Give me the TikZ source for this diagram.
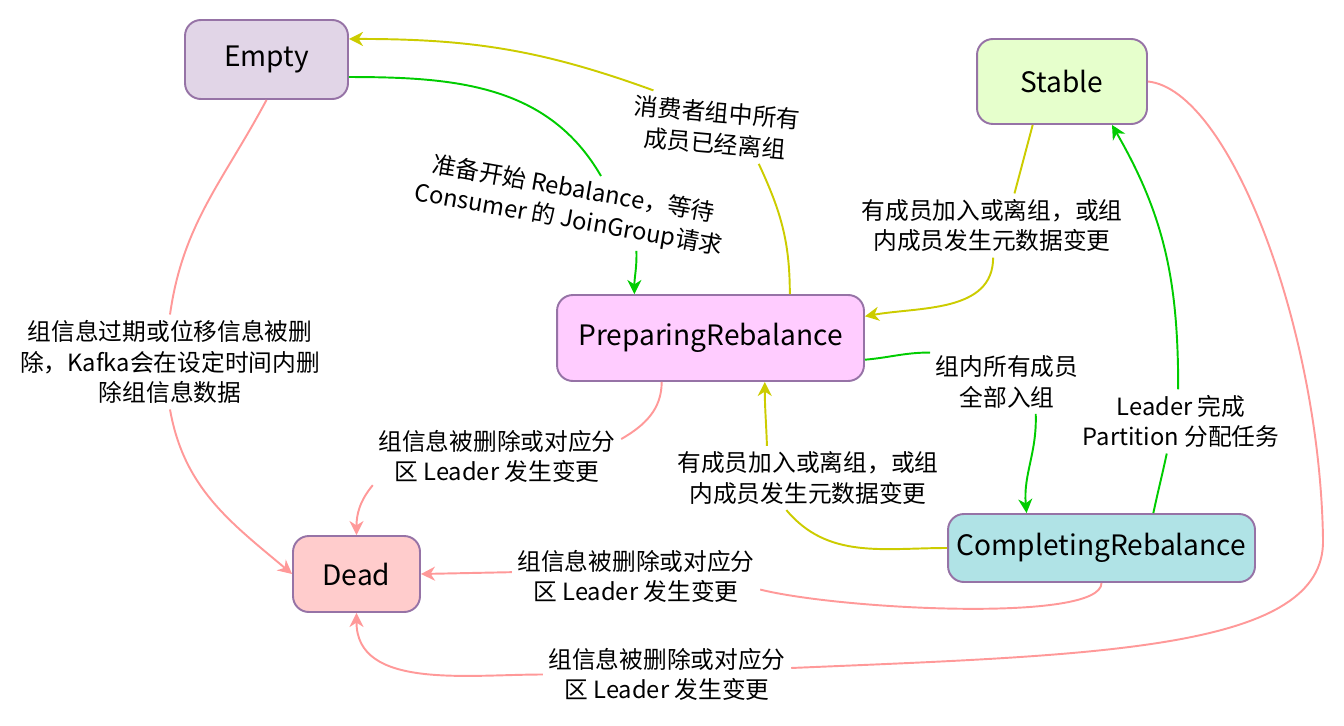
\documentclass[tikz,border=0pt]{standalone}
\usepackage{fontspec}
\setmainfont{Noto Sans CJK SC}
\usetikzlibrary{arrows.meta}
\definecolor{stateLine}{HTML}{9673A6}
\definecolor{emptyFill}{HTML}{E1D5E7}
\definecolor{stableFill}{HTML}{E6FFCC}
\definecolor{prepFill}{HTML}{FFCCFF}
\definecolor{deadFill}{HTML}{FFCCCC}
\definecolor{compFill}{HTML}{B0E3E6}
\definecolor{lineY}{HTML}{CCCC00}
\definecolor{lineG}{HTML}{00CC00}
\definecolor{lineP}{HTML}{FF9999}
\begin{document}
\begin{tikzpicture}[x=0.02cm,y=0.02cm,>={Stealth[length=8pt,width=8pt,inset=2.5pt]},
  stbox/.style={draw=stateLine,line width=1.1pt,rounded corners=9pt,font=\fontsize{16}{19}\selectfont},
  lbl/.style={align=center,inner sep=3pt,font=\fontsize{13.5}{17.5}\selectfont},
  ylw/.style={draw=lineY,line width=1.1pt},
  grn/.style={draw=lineG,line width=1.1pt},
  pnk/.style={draw=lineP,line width=1.1pt}]
\useasboundingbox (0,0) rectangle (1344,-726);
\node[stbox,fill=emptyFill,minimum width=3.26cm,minimum height=1.58cm] (Empty) at (266.5,-59.5) {Empty};
\node[stbox,fill=stableFill,minimum width=3.4cm,minimum height=1.7cm] (Stable) at (1062,-81.5) {Stable};
\node[stbox,fill=prepFill,minimum width=6.14cm,minimum height=1.72cm] (Prep) at (710.5,-338) {PreparingRebalance};
\node[stbox,fill=deadFill,minimum width=2.54cm,minimum height=1.52cm] (Dead) at (356.5,-574) {Dead};
\node[stbox,fill=compFill,minimum width=6.14cm,minimum height=1.36cm] (Comp) at (1101.5,-548) {CompletingRebalance};

\node[lbl,rotate=-5] (lblLeft) at (716,-128) {消费者组中所有\\成员已经离组};
\node[lbl,rotate=-10] (lblJoin) at (571,-205) {准备开始 Rebalance，等待\\Consumer 的 JoinGroup请求};
\node[lbl] (lblExpire) at (170,-362) {组信息过期或位移信息被删\\除，Kafka会在设定时间内删\\除组信息数据};
\node[lbl] (lblPrepDead) at (497,-456.5) {组信息被删除或对应分\\区 Leader 发生变更};
\node[lbl] (lblStablePrep) at (992,-225.5) {有成员加入或离组，或组\\内成员发生元数据变更};
\node[lbl] (lblAllIn) at (1007,-382) {组内所有成员\\全部入组};
\node[lbl] (lblLeader) at (1181,-421.5) {Leader 完成\\Partition 分配任务};
\node[lbl] (lblCompPrep) at (808,-478) {有成员加入或离组，或组\\内成员发生元数据变更};
\node[lbl] (lblCompDead) at (636,-576.5) {组信息被删除或对应分\\区 Leader 发生变更};
\node[lbl] (lblStableDead) at (667,-674.5) {组信息被删除或对应分\\区 Leader 发生变更};

\draw[ylw] (Prep.29) to[out=90,in=-65] (lblLeft.-35);
\draw[ylw,->] (lblLeft.154) to[out=160,in=0] (Empty.14);
\draw[grn] (Empty.-12) to[out=0,in=120] (lblJoin.54);
\draw[grn,->] (lblJoin.-25) to[out=-88,in=90] (Prep.150);
\draw[pnk] (Empty.south) to[out=-118,in=82] (lblExpire.north);
\draw[pnk,->] (lblExpire.south) to[out=-80,in=140] (Dead.west);
\draw[pnk] (Prep.-138) to[out=-90,in=30] (lblPrepDead.8);
\draw[pnk,->] (lblPrepDead.193) to[out=-130,in=90] (Dead.north);
\draw[ylw] (Stable.-124) to[out=-105,in=75] (lblStablePrep.55);
\draw[ylw,->] (lblStablePrep.-88) to[out=-90,in=10] (Prep.8);
\draw[grn] (Prep.-8) to[out=5,in=180] (lblAllIn.159);
\draw[grn,->] (lblAllIn.-48) to[out=-88,in=95] (Comp.155);
\draw[grn] (Comp.34) to[out=78,in=-102] (lblLeader.-114);
\draw[grn,->] (lblLeader.95) to[out=90,in=-60] (Stable.-41);
\draw[ylw] (Comp.west) to[out=180,in=-50] (lblCompPrep.-124);
\draw[ylw,->] (lblCompPrep.142) to[out=92,in=-90] (Prep.-39);
\draw[pnk] (Comp.south) .. controls +(0,-40) and +(80,-20) .. (lblCompDead.-6);
\draw[pnk,->] (lblCompDead.178) -- (Dead.east);
\draw[pnk] (Stable.east) .. controls (1230,-90) and (1320,-330) .. (1323,-540)
  .. controls (1325,-650) and (1100,-655) .. (lblStableDead.3);
\draw[pnk,->] (lblStableDead.west) to[out=180,in=-90] (Dead.south);
\end{tikzpicture}
\end{document}
